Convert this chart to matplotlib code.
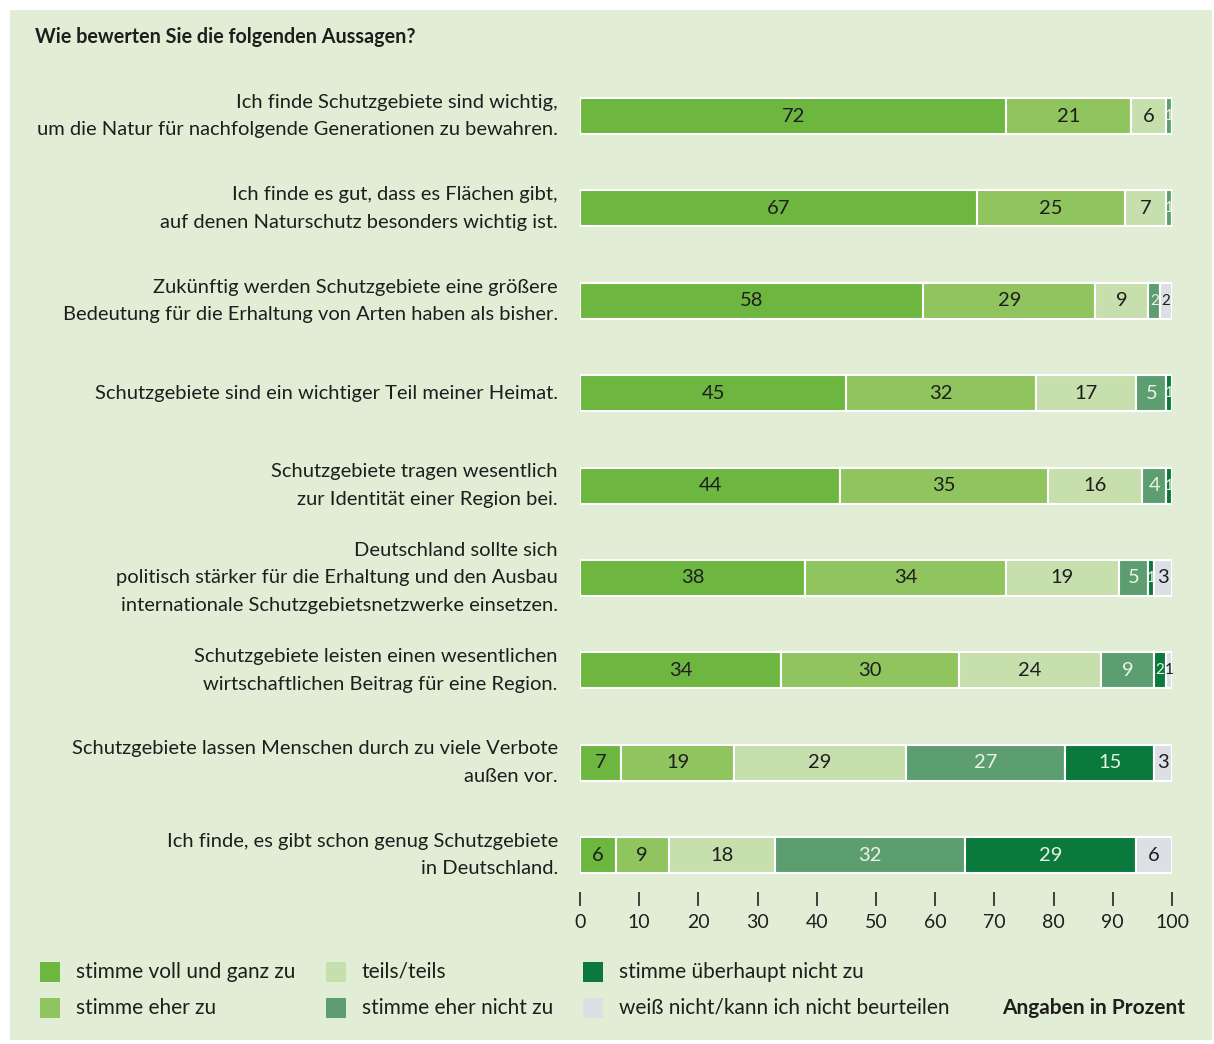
import numpy as np
import matplotlib.pyplot as plt
import matplotlib.patches as patches

plt.rcParams['font.family'] = ['Lato', 'DejaVu Sans']

statements = [
    "Ich finde Schutzgebiete sind wichtig,\num die Natur für nachfolgende Generationen zu bewahren.",
    "Ich finde es gut, dass es Flächen gibt,\nauf denen Naturschutz besonders wichtig ist.",
    "Zukünftig werden Schutzgebiete eine größere\nBedeutung für die Erhaltung von Arten haben als bisher.",
    "Schutzgebiete sind ein wichtiger Teil meiner Heimat.",
    "Schutzgebiete tragen wesentlich\nzur Identität einer Region bei.",
    "Deutschland sollte sich\npolitisch stärker für die Erhaltung und den Ausbau\ninternationale Schutzgebietsnetzwerke einsetzen.",
    "Schutzgebiete leisten einen wesentlichen\nwirtschaftlichen Beitrag für eine Region.",
    "Schutzgebiete lassen Menschen durch zu viele Verbote\naußen vor.",
    "Ich finde, es gibt schon genug Schutzgebiete\nin Deutschland.",
]

categories = ["stimme voll und ganz zu", "stimme eher zu", "teils/teils",
              "stimme eher nicht zu", "stimme überhaupt nicht zu",
              "weiß nicht/kann ich nicht beurteilen"]

voll = [72, 67, 58, 45, 44, 38, 34, 7, 6]
eher = [21, 25, 29, 32, 35, 34, 30, 19, 9]
teils = [6, 7, 9, 17, 16, 19, 24, 29, 18]
eher_nicht = [1, 1, 2, 5, 4, 5, 9, 27, 32]
gar_nicht = [0, 0, 0, 1, 1, 1, 2, 15, 29]
weiss_nicht = [0, 0, 2, 0, 0, 3, 1, 3, 6]

colors = ["#6db640", "#8fc45e", "#c6dfac", "#5c9e70", "#0a7a3c", "#dcdfe4"]
text_colors = ["#1e1e1e", "#1e1e1e", "#1e1e1e", "#eaf4e2", "#eaf4e2", "#1e1e1e"]
bg = "#e2edd5"

series = [voll, eher, teils, eher_nicht, gar_nicht, weiss_nicht]

fig = plt.figure(figsize=(12.14, 10.44), dpi=100)
fig.patch.set_facecolor("white")
fig.patches.append(patches.Rectangle((10 / 1214, 4 / 1044), 1202 / 1214, 1030 / 1044,
                                     transform=fig.transFigure, facecolor=bg,
                                     edgecolor="none", zorder=-10))

ax = fig.add_axes([580 / 1214, 1 - 892 / 1044, 592 / 1214, (892 - 60.6) / 1044])
ax.set_facecolor("none")

y = np.arange(len(statements))
left = np.zeros(len(statements))
for vals, c, tc in zip(series, colors, text_colors):
    vals = np.array(vals)
    ax.barh(y, vals, left=left, height=0.39, color=c, edgecolor="white", linewidth=1.5)
    for yi, l, v in zip(y, left, vals):
        if v > 0:
            # narrow segments get a smaller number so they do not collide
            fs = 11 if v <= 2 else 14.5
            ax.text(l + v / 2, yi, str(v), ha="center", va="center",
                    fontsize=fs, color=tc)
    left += vals

ax.set_xlim(0, 100)
ax.set_ylim(8.4, -0.6)
ax.tick_params(axis="y", length=0, pad=16)
ax.set_xticks(range(0, 101, 10))
ax.tick_params(axis="x", length=10, width=1.3, color="#333333", pad=6,
               labelsize=14, labelcolor="#1e1e1e")
ax.set_yticks(y)
ax.set_yticklabels(statements, fontsize=14.5, color="#1e1e1e", linespacing=1.75,
                   va="center")
for s in ax.spines.values():
    s.set_visible(False)

fig.text(35 / 1214, 1 - 37 / 1044, "Wie bewerten Sie die folgenden Aussagen?",
         fontsize=14.2, fontweight="bold", color="#1e1e1e", va="center")

# legend
leg_pos = [(40, 972), (40, 1008), (326, 972), (326, 1008), (583, 972), (583, 1008)]
for (px, py), c, name in zip(leg_pos, colors, categories):
    fig.patches.append(patches.Rectangle((px / 1214, 1 - (py + 10) / 1044), 20 / 1214, 20 / 1044,
                                         transform=fig.transFigure, facecolor=c,
                                         edgecolor="none"))
    fig.text((px + 36) / 1214, 1 - py / 1044, name, fontsize=15,
             color="#1e1e1e", va="center")

fig.text(1185 / 1214, 1 - 1008 / 1044, "Angaben in Prozent", fontsize=15,
         fontweight="bold", color="#1e1e1e", va="center", ha="right")

fig.savefig("out.png", dpi=100, facecolor=fig.get_facecolor())
